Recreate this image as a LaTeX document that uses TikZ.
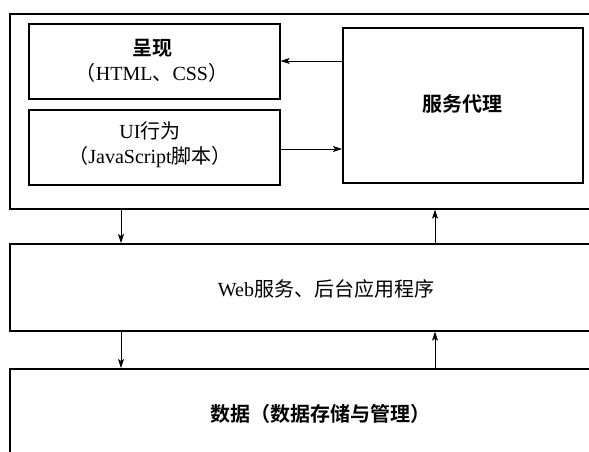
\documentclass[tikz,border=0pt]{standalone}
\usepackage{fontspec}
\setmainfont{Liberation Serif}
\newfontfamily\cjk{Noto Sans CJK SC}
\newfontfamily\cjkb{Noto Sans CJK SC Bold}
\usetikzlibrary{arrows.meta}
\begin{document}
\begin{tikzpicture}[x=1pt,y=-1pt,
  box/.style={draw,line width=1.6pt,inner sep=0pt,fill=white},
  conn/.style={line width=0.9pt,-{Stealth[length=9pt,width=6pt,inset=2pt]}},
  lbl/.style={font=\fontsize{20}{25}\selectfont,align=center}]
\useasboundingbox (0,0) rectangle (589,452);
\clip (0,0) rectangle (589,452);
\fill[white] (0,0) rectangle (589,452);
% outer client box (extends beyond right edge)
\node[box,minimum width=600pt,minimum height=195pt,anchor=north west] (client) at (9,13) {};
\node[box,minimum width=251pt,minimum height=75pt,anchor=north west] (pres) at (28,23) {};
\node[lbl] at (152,61) {{\cjkb 呈现}\\{\cjk （}HTML{\cjk 、}CSS{\cjk ）}};
\node[box,minimum width=251pt,minimum height=75pt,anchor=north west] (ui) at (28,109) {};
\node[lbl] at (150,145) {UI{\cjk 行为}\\{\cjk （}JavaScript{\cjk 脚本）}};
\node[box,minimum width=240pt,minimum height=155pt,anchor=north west] (proxy) at (342,27) {};
\node[lbl] at (462,104) {\cjkb 服务代理};
\node[box,minimum width=600pt,minimum height=87pt,anchor=north west] (web) at (9,243) {};
\node[lbl] at (326,289) {Web{\cjk 服务、后台应用程序}};
\node[box,minimum width=600pt,minimum height=100pt,anchor=north west] (data) at (9,368) {};
\node[lbl] at (320,414) {\cjkb 数据（数据存储与管理）};
% connectors
\draw[conn] (proxy.west |- 0,61) -- (pres.east |- 0,61);
\draw[conn] (ui.east |- 0,149) -- (proxy.west |- 0,149);
\draw[conn] (client.south -| 121,0) -- (web.north -| 121,0);
\draw[conn] (web.north -| 435,0) -- (client.south -| 435,0);
\draw[conn] (web.south -| 121,0) -- (data.north -| 121,0);
\draw[conn] (data.north -| 435,0) -- (web.south -| 435,0);
\end{tikzpicture}
\end{document}
